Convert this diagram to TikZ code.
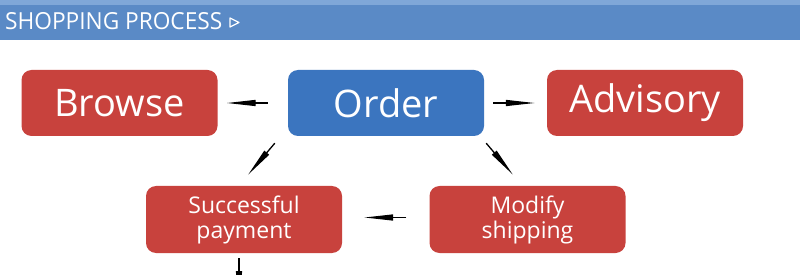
\documentclass[tikz,border=0pt]{standalone}
\usepackage{fontspec}
\setmainfont{Open Sans}
\usetikzlibrary{arrows.meta}
\definecolor{boxred}{HTML}{C8423D}
\definecolor{boxblue}{HTML}{3B75BF}
\definecolor{band}{HTML}{5A8AC6}
\definecolor{bandtop}{HTML}{7FA7D8}
\tikzset{
  bigbox/.style={rounded corners=10pt, inner sep=0pt, minimum width=196pt, minimum height=66pt, text=white, font=\fontsize{38}{44}\selectfont},
  smallbox/.style={rounded corners=10pt, inner sep=0pt, minimum width=196pt, minimum height=67pt, text=white, align=center, font=\fontsize{23}{25}\selectfont},
  arr/.style={line width=1.3pt, -{Triangle[length=29pt,width=6pt]}},
}
\begin{document}
\begin{tikzpicture}[x=1pt,y=-1pt]
\useasboundingbox (0,0) rectangle (800,275);
\fill[white] (0,0) rectangle (800,275);
% header
\fill[band] (0,0) rectangle (800,40);
\fill[bandtop] (0,0) rectangle (800,5);
\node[anchor=base west, inner sep=0pt, xscale=0.965, text=white, font=\fontsize{23.5}{27}\selectfont] (title) at (5,29.5) {SHOPPING PROCESS};
\draw[white, line width=1.2pt, line join=round] (230,18) -- (239,22.5) -- (230,27) -- cycle;
% boxes
\node[bigbox, fill=boxred] (browse) at (119.5,103) {Browse};
\node[bigbox, fill=boxblue] (order) at (386,103) {Order};
\node[bigbox, fill=boxred] (advisory) at (645,103) {Advisory};
\node[smallbox, fill=boxred] (succ) at (244,219.5) {Successful\\payment};
\node[smallbox, fill=boxred] (modify) at (527.5,219.5) {Modify\\shipping};
% connectors
\draw[arr] ([xshift=-20pt]order.west) -- ([xshift=9pt]browse.east);
\draw[arr] ([xshift=9pt]order.east) -- ([xshift=-12pt]advisory.west);
\draw[arr] ([shift={(-13pt,-7pt)}]order.south west) -- ([shift={(4pt,11pt)}]succ.north);
\draw[arr] ([shift={(2pt,-7pt)}]order.south east) -- ([shift={(-14.5pt,11pt)}]modify.north);
\draw[arr] ([shift={(-23pt,2pt)}]modify.west) -- ([shift={(22pt,2pt)}]succ.east);
\coordinate (down) at (239,300);
\draw[arr] ([shift={(-5pt,-5pt)}]succ.south) -- (down);
\end{tikzpicture}
\end{document}
